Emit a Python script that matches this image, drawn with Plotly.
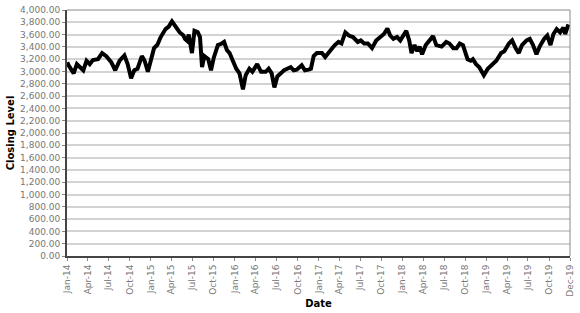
import plotly.graph_objects as go

dates = [
    "2014-01-02", "2014-01-08", "2014-01-30", "2014-02-13", "2014-02-27", "2014-03-13",
    "2014-03-27", "2014-04-10", "2014-04-24", "2014-05-16", "2014-06-03", "2014-06-21",
    "2014-07-13", "2014-07-30", "2014-08-18", "2014-09-08", "2014-09-22", "2014-10-07",
    "2014-10-21", "2014-11-04", "2014-11-23", "2014-12-05", "2014-12-19", "2014-12-31",
    "2015-01-15", "2015-01-29", "2015-02-13", "2015-03-06", "2015-03-20", "2015-04-03",
    "2015-04-18", "2015-05-06", "2015-05-23", "2015-05-30", "2015-06-08", "2015-06-15",
    "2015-06-29", "2015-07-10", "2015-07-24", "2015-08-03", "2015-08-12", "2015-08-22",
    "2015-09-08", "2015-09-20", "2015-10-02", "2015-10-20", "2015-11-06", "2015-11-16",
    "2015-11-28", "2015-12-10", "2015-12-24",
    "2016-01-08", "2016-01-22", "2016-02-06", "2016-02-18", "2016-03-05", "2016-03-18",
    "2016-03-28", "2016-04-08", "2016-04-25", "2016-05-15", "2016-05-28", "2016-06-10",
    "2016-06-22", "2016-07-05", "2016-07-20", "2016-08-03", "2016-08-17", "2016-09-01",
    "2016-09-14", "2016-09-27", "2016-10-19", "2016-11-02", "2016-11-18", "2016-11-28",
    "2016-12-10", "2016-12-24",
    "2017-01-15", "2017-01-29", "2017-02-12", "2017-02-27", "2017-03-12", "2017-03-28",
    "2017-04-10", "2017-04-27", "2017-05-12", "2017-05-30", "2017-06-20", "2017-07-03",
    "2017-07-18", "2017-08-03", "2017-08-21", "2017-09-08", "2017-09-28", "2017-10-12",
    "2017-10-27", "2017-11-08", "2017-11-22", "2017-12-08", "2017-12-22",
    "2018-01-07", "2018-01-17", "2018-01-30", "2018-02-09", "2018-02-22", "2018-03-06",
    "2018-03-16", "2018-03-27", "2018-04-12", "2018-04-27", "2018-05-14", "2018-05-28",
    "2018-06-20", "2018-07-10", "2018-07-24", "2018-08-10", "2018-08-24", "2018-09-07",
    "2018-09-21", "2018-10-11", "2018-10-25", "2018-11-03", "2018-11-17", "2018-12-01",
    "2018-12-21",
    "2019-01-07", "2019-01-24", "2019-02-13", "2019-03-06", "2019-03-20", "2019-04-09",
    "2019-04-23", "2019-05-08", "2019-05-22", "2019-06-05", "2019-06-25", "2019-07-09",
    "2019-07-23", "2019-08-07", "2019-08-21", "2019-09-09", "2019-09-23", "2019-10-07",
    "2019-10-20", "2019-11-03", "2019-11-18", "2019-12-02", "2019-12-10", "2019-12-24",
]

closing = [
    3150, 3100, 2970, 3120, 3070, 3020,
    3175, 3120, 3185, 3200, 3300, 3250,
    3150, 3020, 3175, 3260, 3120, 2890,
    3020, 3045, 3250, 3175, 2995, 3150,
    3380, 3430, 3560, 3690, 3730, 3815,
    3740, 3640, 3585, 3530, 3500, 3600,
    3300, 3660, 3640, 3560, 3070, 3250,
    3200, 3020, 3225, 3430, 3455, 3480,
    3350, 3300, 3175,
    3045, 2970, 2710, 2940, 3045, 2995,
    3045, 3120, 2995, 2995, 3045, 2970,
    2740, 2920, 2970, 3020, 3045, 3070,
    3020, 3030, 3100, 3020, 3030, 3045,
    3250, 3300,
    3300, 3235, 3300, 3380, 3430, 3480,
    3455, 3635, 3585, 3560, 3480, 3505,
    3455, 3455, 3380, 3505, 3575, 3610,
    3700, 3585, 3530, 3560, 3505,
    3610, 3660, 3505, 3300, 3430, 3330,
    3405, 3280, 3430, 3505, 3575, 3430,
    3405, 3480, 3455, 3380, 3380, 3455,
    3430, 3200, 3175, 3200, 3120, 3070,
    2940,
    3045, 3100, 3175, 3300, 3330, 3455,
    3505, 3380, 3300, 3430, 3505, 3530,
    3430, 3280, 3405, 3530, 3585, 3430,
    3610, 3690, 3635, 3715, 3610, 3765,
]

tick_vals = ["2014-01-01", "2014-04-01", "2014-07-01", "2014-10-01",
             "2015-01-01", "2015-04-01", "2015-07-01", "2015-10-01",
             "2016-01-01", "2016-04-01", "2016-07-01", "2016-10-01",
             "2017-01-01", "2017-04-01", "2017-07-01", "2017-10-01",
             "2018-01-01", "2018-04-01", "2018-07-01", "2018-10-01",
             "2019-01-01", "2019-04-01", "2019-07-01", "2019-10-01", "2019-12-31"]
tick_text = ["Jan-14", "Apr-14", "Jul-14", "Oct-14",
             "Jan-15", "Apr-15", "Jul-15", "Oct-15",
             "Jan-16", "Apr-16", "Jul-16", "Oct-16",
             "Jan-17", "Apr-17", "Jul-17", "Oct-17",
             "Jan-18", "Apr-18", "Jul-18", "Oct-18",
             "Jan-19", "Apr-19", "Jul-19", "Oct-19", "Dec-19"]

fig = go.Figure()
fig.add_trace(go.Scatter(x=dates, y=closing, mode="lines",
                         line=dict(color="black", width=4), showlegend=False))

font = "DejaVu Sans, Verdana, sans-serif"
fig.update_layout(
    width=580, height=313,
    margin=dict(l=67, r=5, t=6, b=50),
    paper_bgcolor="white", plot_bgcolor="white",
    font=dict(family=font, size=9, color="#777"),
    xaxis=dict(
        range=["2014-01-01", "2019-12-31"],
        tickvals=tick_vals, ticktext=tick_text, tickangle=-90,
        showgrid=False, showline=True, linecolor="#444", linewidth=2,
        mirror=False, ticks="outside", ticklen=3, tickcolor="#888",
        tickfont=dict(family=font, size=9, color="#777"),
        title=dict(text="<b>Date</b>", font=dict(family=font, size=10, color="black"),
                   standoff=4),
    ),
    yaxis=dict(
        range=[0, 4000], dtick=200, tickformat=",.2f",
        showgrid=True, gridcolor="#d3d3d3", gridwidth=1.5,
        showline=True, linecolor="#444", linewidth=2,
        ticks="outside", ticklen=3, tickcolor="#888",
        tickfont=dict(family=font, size=9, color="#777"),
        title=dict(text="<b>Closing Level</b>", font=dict(family=font, size=10, color="black"),
                   standoff=4),
        zeroline=False,
    ),
)
# light box on top and right
fig.add_shape(type="line", xref="paper", yref="paper", x0=0, x1=1, y0=1, y1=1,
              line=dict(color="#888", width=1))
fig.add_shape(type="line", xref="paper", yref="paper", x0=1, x1=1, y0=0, y1=1,
              line=dict(color="#888", width=1))

fig.write_html("out.html")
